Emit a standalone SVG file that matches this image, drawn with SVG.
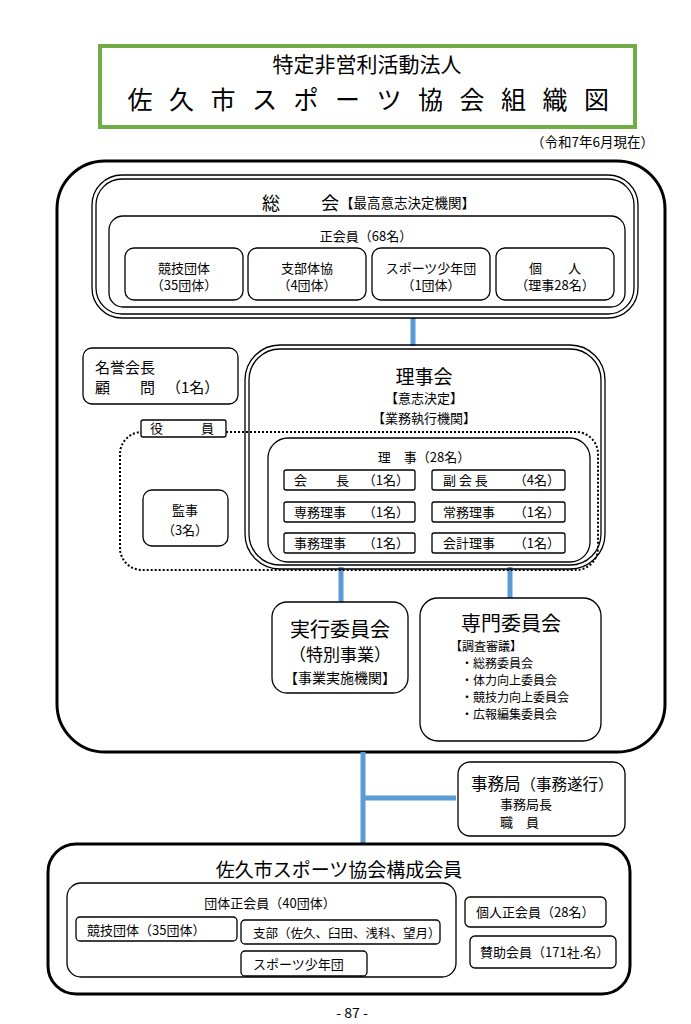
<svg xmlns="http://www.w3.org/2000/svg" width="691" height="1024" viewBox="0 0 691 1024">
<style>
text{font-family:"Noto Sans CJK JP","Noto Sans CJK SC",sans-serif;fill:#000}
.b{fill:#fff;stroke:#000;stroke-width:1.3}
.thick{fill:#fff;stroke:#000;stroke-width:3}
.dbl{fill:none;stroke:#000;stroke-width:1.3}
.blue{stroke:#5B9BD5;stroke-width:5;fill:none}
.s13{font-size:13px}
.s12{font-size:12px}
.m{text-anchor:middle}
.e{text-anchor:end}
</style>
<rect width="691" height="1024" fill="#fff"/>

<g id="title">
<rect x="100" y="46" width="535" height="81" fill="#fff" stroke="#70AD47" stroke-width="4"/>
<text x="367" y="72" class="m" font-size="21">特定非営利活動法人</text>
<text x="140 181.5 223 264.5 306 347.5 389 430.5 472 513.5 555 596.5" y="108.5" class="m" font-size="25">佐久市スポーツ協会組織図</text>
<text x="654" y="147" class="e" font-size="13.5">（令和7年6月現在）</text>
</g>

<g id="outer">
<rect x="57" y="161" width="608" height="591" rx="48" class="thick"/>
</g>

<g id="connectors">
<line x1="413" y1="318" x2="413" y2="346" class="blue"/>
<line x1="341" y1="567" x2="341" y2="602" class="blue"/>
<line x1="510" y1="567" x2="510" y2="598" class="blue"/>
<line x1="363" y1="752" x2="363" y2="845" class="blue"/>
<line x1="363" y1="798" x2="456" y2="798" class="blue"/>
</g>

<g id="soukai">
<rect x="92" y="175" width="546" height="143" rx="30" class="dbl" fill="#fff"/>
<rect x="96" y="179" width="538" height="135" rx="26" class="dbl"/>
<text x="262" y="210" font-size="18">総</text>
<text x="321" y="210" font-size="18">会</text>
<text x="340" y="208" font-size="13.5">【最高意志決定機関】</text>
<g id="seikaiin">
<rect x="109" y="216" width="516" height="91" rx="14" class="b"/>
<text x="366" y="241" class="m s13">正会員（68名）</text>
<rect x="125" y="248" width="118" height="52" rx="9" class="b"/>
<text x="184" y="273" class="m s13">競技団体</text>
<text x="184" y="290" class="m s13">（35団体）</text>
<rect x="248" y="248" width="118" height="52" rx="9" class="b"/>
<text x="307" y="273" class="m s13">支部体協</text>
<text x="307" y="290" class="m s13">（4団体）</text>
<rect x="372" y="248" width="118" height="52" rx="9" class="b"/>
<text x="431" y="273" class="m s13">スポーツ少年団</text>
<text x="431" y="290" class="m s13">（1団体）</text>
<rect x="496" y="248" width="118" height="52" rx="9" class="b"/>
<text x="555" y="273" class="m s13">個　　人</text>
<text x="555" y="290" class="m s13">（理事28名）</text>
</g>
</g>

<g id="meiyo">
<rect x="83" y="348" width="155" height="56" rx="9" class="b"/>
<text x="95" y="373" font-size="15">名誉会長</text>
<text x="95" y="393" font-size="15">顧</text>
<text x="140" y="393" font-size="15">問</text>
<text x="166" y="393" font-size="15">（1名）</text>
</g>

<g id="yakuin">
<rect x="120" y="432" width="478" height="138" rx="22" fill="none" stroke="#000" stroke-width="2" stroke-dasharray="2 2"/>
</g>

<g id="rijikai">
<rect x="245" y="345" width="360" height="224" rx="35" class="dbl"/>
<rect x="249" y="349" width="352" height="216" rx="31" class="dbl"/>
<text x="424" y="384" class="m" font-size="19">理事会</text>
<text x="424" y="403" class="m s13">【意志決定】</text>
<text x="424" y="423" class="m s13">【業務執行機関】</text>
</g>

<g id="yakuin-label">
<rect x="141" y="420" width="85" height="17" rx="2" class="b"/>
<text x="150" y="433" class="s13">役</text>
<text x="201" y="433" class="s13">員</text>
</g>

<g id="kanji">
<rect x="143" y="490" width="85" height="56" rx="9" class="b"/>
<text x="185" y="515" class="m s13">監事</text>
<text x="185" y="535" class="m s13">（3名）</text>
</g>

<g id="riji">
<rect x="268" y="438" width="322" height="124" rx="20" class="b"/>
<text x="424" y="462" class="m s13">理　事（28名）</text>
<rect x="284" y="470" width="131" height="20" rx="2" class="b"/>
<text x="294" y="485" class="s13">会</text><text x="336" y="485" class="s13">長</text>
<text x="409" y="485" class="e s13">（1名）</text>
<rect x="432" y="470" width="133" height="20" rx="2" class="b"/>
<text x="443" y="485" class="s13">副 会 長</text>
<text x="560" y="485" class="e s13">（4名）</text>
<rect x="284" y="502" width="131" height="20" rx="2" class="b"/>
<text x="294" y="517" class="s13">専務理事</text>
<text x="409" y="517" class="e s13">（1名）</text>
<rect x="432" y="502" width="133" height="20" rx="2" class="b"/>
<text x="443" y="517" class="s13">常務理事</text>
<text x="560" y="517" class="e s13">（1名）</text>
<rect x="284" y="533" width="131" height="20" rx="2" class="b"/>
<text x="294" y="548" class="s13">事務理事</text>
<text x="409" y="548" class="e s13">（1名）</text>
<rect x="432" y="533" width="133" height="20" rx="2" class="b"/>
<text x="443" y="548" class="s13">会計理事</text>
<text x="560" y="548" class="e s13">（1名）</text>
</g>

<g id="jikko">
<rect x="272" y="602" width="136" height="91" rx="15" class="b"/>
<text x="340" y="637" class="m" font-size="20">実行委員会</text>
<text x="340" y="661" class="m" font-size="17">（特別事業）</text>
<text x="340" y="683" class="m" font-size="14">【事業実施機関】</text>
</g>

<g id="senmon">
<rect x="420" y="598" width="181" height="143" rx="18" class="b"/>
<text x="511" y="631" class="m" font-size="20">専門委員会</text>
<text x="450" y="651" class="s12">【調査審議】</text>
<text x="461" y="668" class="s12">・総務委員会</text>
<text x="461" y="685" class="s12">・体力向上委員会</text>
<text x="461" y="702" class="s12">・競技力向上委員会</text>
<text x="461" y="719" class="s12">・広報編集委員会</text>
</g>

<g id="jimukyoku">
<rect x="458" y="762" width="167" height="74" rx="12" class="b"/>
<text x="471" y="790" font-size="16.5">事務局<tspan font-size="15.5">（事務遂行）</tspan></text>
<text x="500" y="809" class="s13">事務局長</text>
<text x="500" y="827" class="s13">職　員</text>
</g>

<g id="kosei">
<rect x="48" y="844" width="582" height="150" rx="28" class="thick"/>
<text x="339" y="877" class="m" font-size="19">佐久市スポーツ協会構成会員</text>
<rect x="67" y="883" width="389" height="94" rx="14" class="b"/>
<text x="270" y="908" class="m s13">団体正会員（40団体）</text>
<rect x="76" y="917" width="161" height="24" rx="4" class="b"/>
<text x="87" y="935" class="s13">競技団体（35団体）</text>
<rect x="241" y="920" width="199" height="24" rx="4" class="b"/>
<text x="253" y="938" font-size="12.5">支部（佐久、臼田、浅科、望月）</text>
<rect x="241" y="951" width="126" height="25" rx="4" class="b"/>
<text x="253" y="969" class="s13">スポーツ少年団</text>
<rect x="465" y="897" width="141" height="30" rx="5" class="b"/>
<text x="476" y="917" class="s13">個人正会員（28名）</text>
<rect x="470" y="936" width="146" height="32" rx="5" class="b"/>
<text x="480" y="957" class="s13">賛助会員（171社.名）</text>
</g>

<text x="352" y="1018" class="m" font-size="14">- 87 -</text>
</svg>
